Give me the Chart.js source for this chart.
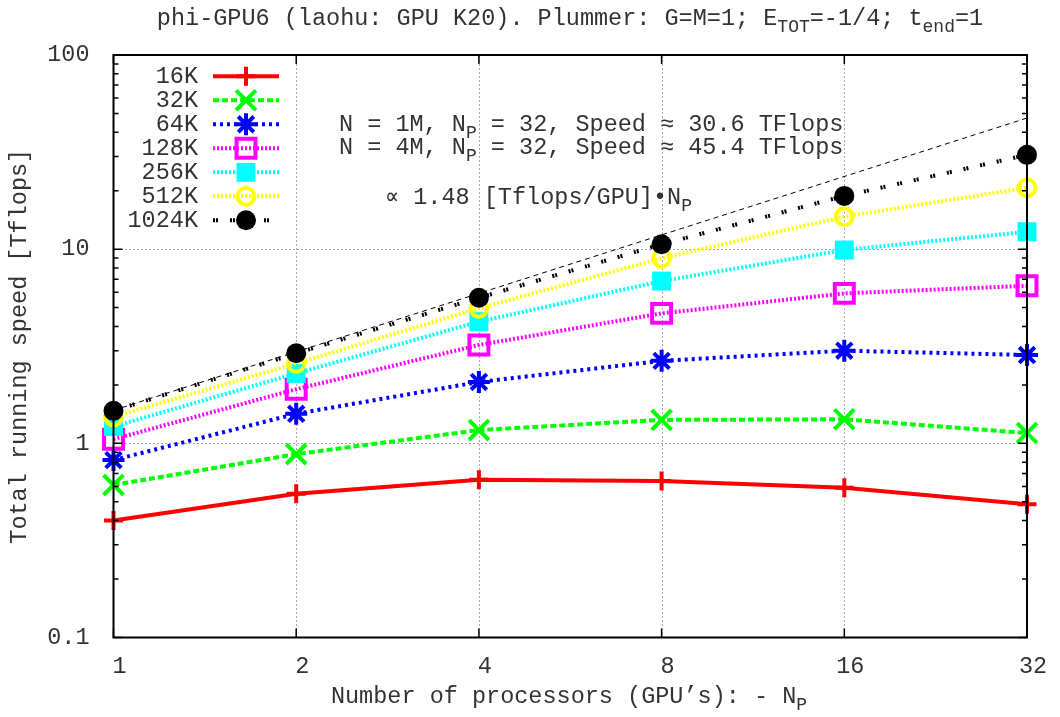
<!DOCTYPE html>
<html>
<head>
<meta charset="utf-8">
<script src="https://cdn.jsdelivr.net/npm/chart.js@4/dist/chart.umd.min.js"></script>
<style>
html,body{margin:0;padding:0;background:#fff;}
#c{display:block;}
</style>
</head>
<body>
<canvas id="c" width="1060" height="717"></canvas>
<script>
// ---- data ----
const procs = [1, 2, 4, 8, 16, 32];
const s16K   = [0.40, 0.55, 0.65, 0.64, 0.59, 0.485];
const s32K   = [0.61, 0.88, 1.17, 1.32, 1.33, 1.13];
const s64K   = [0.82, 1.42, 2.07, 2.66, 3.00, 2.85];
const s128K  = [1.05, 1.90, 3.21, 4.67, 5.92, 6.48];
const s256K  = [1.22, 2.29, 4.23, 6.85, 9.90, 12.3];
const s512K  = [1.37, 2.58, 4.96, 8.97, 14.7, 20.7];
const s1024K = [1.47, 2.91, 5.62, 10.6, 18.8, 30.6];
const seriesLabels = ['16K', '32K', '64K', '128K', '256K', '512K', '1024K'];
const fitX = [1, 32];
const fitY = [1.48, 47.36];
const xTickVals = [1, 2, 4, 8, 16, 32];
const xTickLabels = ['1', '2', '4', '8', '16', '32'];
const yTickVals = [0.1, 1, 10, 100];
const yTickLabels = ['0.1', '1', '10', '100'];

// ---- styles ----
const FONT = '"Liberation Mono", "Courier New", monospace';
const FS = 23.5, SUB = 18, SUBSHIFT = 7;
const TXT = '#333';
const styles = [
  {color:'#ff0000', dash:[],          point:'cross',    r:9.5,  pbw:4, filled:false},
  {color:'#00ff00', dash:[6,3],       point:'crossRot', r:14,   pbw:4, filled:false},
  {color:'#0000ff', dash:[3,4],       point:'star',     r:11,   pbw:4, filled:false},
  {color:'#ff00ff', dash:[2,2],       point:'rect',     r:13.4, pbw:4, filled:false},
  {color:'#00ffff', dash:[2,2],       point:'rect',     r:13.4, pbw:0, filled:true},
  {color:'#ffff00', dash:[2,2],       point:'circle',   r:8.4,  pbw:4, filled:false},
  {color:'#000000', dash:[2,1,2,12],  point:'circle',   r:10,   pbw:0, filled:true}
];
const seriesData = [s16K, s32K, s64K, s128K, s256K, s512K, s1024K];

const datasets = seriesData.map((vals, i) => {
  const st = styles[i];
  return {
    label: seriesLabels[i],
    data: procs.map((p, j) => ({x: p, y: vals[j]})),
    borderColor: st.color, borderWidth: 4, borderDash: st.dash,
    borderCapStyle: 'butt', borderJoinStyle: 'miter',
    pointStyle: st.point, pointRadius: st.r, pointHoverRadius: st.r,
    pointBorderWidth: st.pbw, pointHoverBorderWidth: st.pbw, pointBorderColor: st.color,
    pointBackgroundColor: st.filled ? st.color : 'rgba(0,0,0,0)',
    fill: false, tension: 0, clip: false,
    order: seriesData.length - i,
    _legend: true
  };
});
datasets.push({
  label: 'fit', data: fitX.map((x, j) => ({x: x, y: fitY[j]})),
  borderColor: '#000', borderWidth: 1, borderDash: [5,4], pointRadius: 0,
  fill: false, tension: 0, clip: false, order: 20, _legend: false
});

const L = 113.5, R = 1027, T = 55, B = 637.5;

function rich(ctx, parts, x, y, align) {
  let w = 0;
  parts.forEach(p => { ctx.font = (p[1] ? SUB : FS) + 'px ' + FONT; w += ctx.measureText(p[0]).width; });
  let cx = align === 'center' ? x - w / 2 : (align === 'right' ? x - w : x);
  ctx.textAlign = 'left';
  ctx.textBaseline = 'alphabetic';
  parts.forEach(p => {
    ctx.font = (p[1] ? SUB : FS) + 'px ' + FONT;
    ctx.fillText(p[0], cx, y + (p[1] ? SUBSHIFT : 0));
    cx += ctx.measureText(p[0]).width;
  });
}

const gnuPlugin = {
  id: 'gnu',
  beforeDraw(chart) {
    const ctx = chart.ctx;
    ctx.save();
    ctx.fillStyle = '#fff';
    ctx.fillRect(0, 0, chart.width, chart.height);
    ctx.restore();
  },
  beforeDatasetsDraw(chart) {
    const ctx = chart.ctx, a = chart.chartArea;
    const xs = chart.scales.x, ys = chart.scales.y;
    ctx.save();
    ctx.strokeStyle = '#555';
    ctx.lineWidth = 1;
    ctx.setLineDash([1, 3]);
    xTickVals.forEach(v => {
      const px = xs.getPixelForValue(v);
      if (px > a.left + 2 && px < a.right - 2) {
        const X = Math.round(px) + 0.5;
        ctx.beginPath(); ctx.moveTo(X, a.bottom); ctx.lineTo(X, a.top); ctx.stroke();
      }
    });
    yTickVals.forEach(v => {
      const py = ys.getPixelForValue(v);
      if (py > a.top + 2 && py < a.bottom - 2) {
        const Y = Math.round(py) + 0.5;
        ctx.beginPath(); ctx.moveTo(a.left, Y); ctx.lineTo(a.right, Y); ctx.stroke();
      }
    });
    ctx.restore();
  },
  afterDatasetsDraw(chart) {
    const ctx = chart.ctx, a = chart.chartArea;
    const xs = chart.scales.x, ys = chart.scales.y;
    ctx.save();
    // ticks (inward)
    ctx.strokeStyle = '#000';
    ctx.lineWidth = 1.5;
    ctx.setLineDash([]);
    const MAJ = 9, MIN = 5;
    xTickVals.forEach(v => {
      const X = xs.getPixelForValue(v);
      ctx.beginPath();
      ctx.moveTo(X, a.bottom); ctx.lineTo(X, a.bottom - MAJ);
      ctx.moveTo(X, a.top); ctx.lineTo(X, a.top + MAJ);
      ctx.stroke();
    });
    yTickVals.forEach(v => {
      const Y = ys.getPixelForValue(v);
      ctx.beginPath();
      ctx.moveTo(a.left, Y); ctx.lineTo(a.left + MAJ, Y);
      ctx.moveTo(a.right, Y); ctx.lineTo(a.right - MAJ, Y);
      ctx.stroke();
    });
    for (let d = 0; d < yTickVals.length - 1; d++) {
      for (let k = 2; k <= 9; k++) {
        const Y = ys.getPixelForValue(yTickVals[d] * k);
        ctx.beginPath();
        ctx.moveTo(a.left, Y); ctx.lineTo(a.left + MIN, Y);
        ctx.moveTo(a.right, Y); ctx.lineTo(a.right - MIN, Y);
        ctx.stroke();
      }
    }
    // border
    ctx.lineWidth = 2;
    ctx.strokeRect(a.left, a.top, a.right - a.left, a.bottom - a.top);

    // legend
    const lx0 = 213, lx1 = 279, lmx = 246, lTextR = 198, by0 = 83.3, step = 24;
    let row = 0;
    chart.data.datasets.forEach((ds) => {
      if (!ds._legend) return;
      const by = by0 + step * row;
      const cy = by - 7;
      ctx.fillStyle = TXT;
      ctx.font = FS + 'px ' + FONT;
      ctx.textAlign = 'right';
      ctx.textBaseline = 'alphabetic';
      ctx.fillText(ds.label, lTextR, by);
      ctx.save();
      ctx.strokeStyle = ds.borderColor;
      ctx.lineWidth = ds.borderWidth;
      ctx.setLineDash(ds.borderDash);
      ctx.lineCap = 'butt';
      ctx.beginPath(); ctx.moveTo(lx0, cy); ctx.lineTo(lx1, cy); ctx.stroke();
      ctx.setLineDash([]);
      ctx.strokeStyle = ds.pointBorderColor;
      ctx.fillStyle = ds.pointBackgroundColor;
      ctx.lineWidth = ds.pointBorderWidth;
      if (Chart.helpers && Chart.helpers.drawPoint) {
        Chart.helpers.drawPoint(ctx, {pointStyle: ds.pointStyle, radius: ds.pointRadius, rotation: 0, borderWidth: ds.pointBorderWidth}, lmx, cy);
      }
      ctx.restore();
      row++;
    });

    // annotations
    ctx.fillStyle = TXT;
    rich(ctx, [['N = 1M, N'], ['P', 1], [' = 32, Speed \u2248 30.6 TFlops']], 339, 130.7, 'left');
    rich(ctx, [['N = 4M, N'], ['P', 1], [' = 32, Speed \u2248 45.4 TFlops']], 339, 153.5, 'left');
    rich(ctx, [['\u221D 1.48 [Tflops/GPU]\u2022N'], ['P', 1]], 385, 203.5, 'left');

    // title
    rich(ctx, [['phi-GPU6 (laohu: GPU K20). Plummer: G=M=1; E'], ['TOT', 1], ['=-1/4; t'], ['end', 1], ['=1']], 570, 25, 'center');
    // x title
    rich(ctx, [['Number of processors (GPU\u2019s): - N'], ['P', 1]], 569, 703, 'center');
    // y title
    ctx.save();
    ctx.translate(26, (a.top + a.bottom) / 2);
    ctx.rotate(-Math.PI / 2);
    ctx.font = FS + 'px ' + FONT;
    ctx.textAlign = 'center';
    ctx.textBaseline = 'alphabetic';
    ctx.fillText('Total running speed [Tflops]', 0, 0);
    ctx.restore();

    ctx.restore();
  }
};

new Chart(document.getElementById('c'), {
  type: 'line',
  data: { datasets: datasets },
  options: {
    responsive: false,
    animation: false,
    devicePixelRatio: 1,
    events: [],
    layout: { padding: { top: T, right: 1060 - R, left: 0, bottom: 0 } },
    plugins: { legend: { display: false }, title: { display: false }, tooltip: { enabled: false } },
    scales: {
      x: {
        type: 'logarithmic', min: 1, max: 32, position: 'bottom',
        afterBuildTicks: s => { s.ticks = xTickVals.map(v => ({value: v})); },
        afterFit: s => { s.height = 717 - B; },
        grid: { display: false }, border: { display: false },
        ticks: {
          autoSkip: false, maxRotation: 0, minRotation: 0, padding: 7, labelOffset: 6,
          color: TXT, font: { family: FONT, size: FS },
          callback: (v, i) => xTickLabels[i]
        }
      },
      y: {
        type: 'logarithmic', min: 0.1, max: 100, position: 'left',
        afterBuildTicks: s => { s.ticks = yTickVals.map(v => ({value: v})); },
        afterFit: s => { s.width = L; },
        grid: { display: false }, border: { display: false },
        ticks: {
          autoSkip: false, padding: 16,
          color: TXT, font: { family: FONT, size: FS },
          callback: (v, i) => yTickLabels[i]
        }
      }
    }
  },
  plugins: [gnuPlugin]
});
</script>
</body>
</html>
